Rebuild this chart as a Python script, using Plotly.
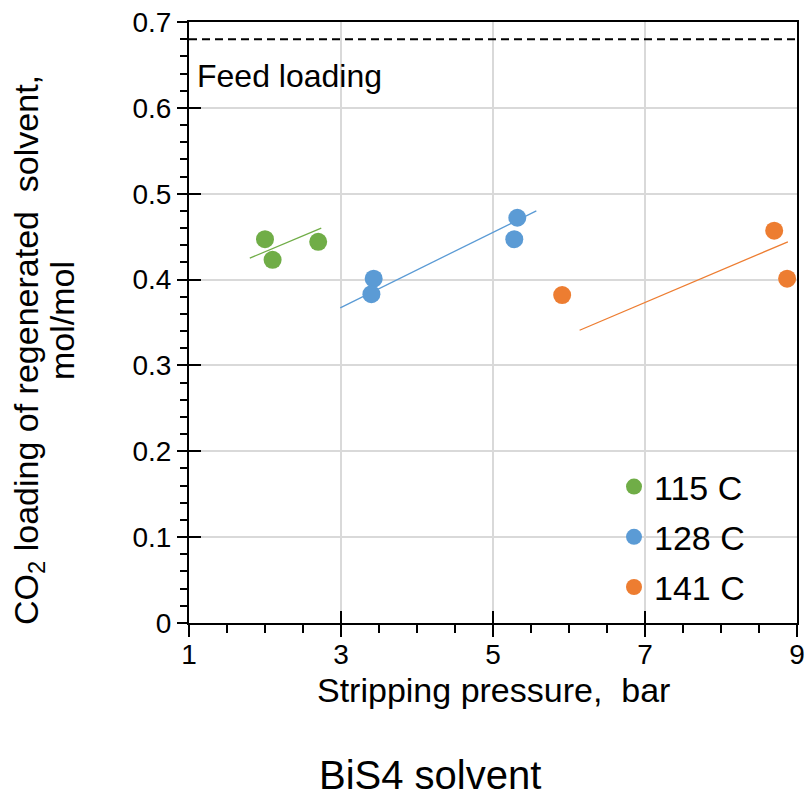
import plotly.graph_objects as go

# ---- data ----
series_names = ["115 C", "128 C", "141 C"]
series_colors = ["#70AD47", "#5B9BD5", "#ED7D31"]

x_115 = [2.00, 2.10, 2.70]
y_115 = [0.447, 0.423, 0.444]
x_128 = [3.43, 3.40, 5.28, 5.32]
y_128 = [0.401, 0.383, 0.447, 0.472]
x_141 = [5.91, 8.70, 8.87]
y_141 = [0.382, 0.457, 0.401]

trend_x_115 = [1.80, 2.74]
trend_y_115 = [0.425, 0.460]
trend_x_128 = [2.99, 5.57]
trend_y_128 = [0.367, 0.480]
trend_x_141 = [6.14, 8.88]
trend_y_141 = [0.341, 0.444]

feed_x = [1, 9]
feed_y = [0.68, 0.68]
feed_label = "Feed loading"

x_ticks = [1, 3, 5, 7, 9]
y_ticks = [0, 0.1, 0.2, 0.3, 0.4, 0.5, 0.6, 0.7]
y_tick_labels = ["0", "0.1", "0.2", "0.3", "0.4", "0.5", "0.6", "0.7"]

x_title = "Stripping pressure,  bar"
y_title_1 = "CO<sub>2</sub> loading of regenerated  solvent,"
y_title_2 = "mol/mol"
caption = "BiS4 solvent"

FONT = "Liberation Sans, Arial, sans-serif"
W, H = 808, 802
ML, MR, MT, MB = 189, 11, 22, 179
PW, PH = W - ML - MR, H - MT - MB


def px_x(p):
    return (p - ML) / PW


def px_y(p):
    return (H - MB - p) / PH


fig = go.Figure()

fig.add_trace(go.Scatter(x=feed_x, y=feed_y, mode="lines",
                         line=dict(color="black", width=2, dash="8px,5px"),
                         showlegend=False, hoverinfo="skip"))

points = [(x_115, y_115), (x_128, y_128), (x_141, y_141)]
trends = [(trend_x_115, trend_y_115), (trend_x_128, trend_y_128), (trend_x_141, trend_y_141)]

for i, col in enumerate(series_colors):
    tx, ty = trends[i]
    fig.add_trace(go.Scatter(x=tx, y=ty, mode="lines", line=dict(color=col, width=1.3),
                             showlegend=False, hoverinfo="skip"))
for i, (name, col) in enumerate(zip(series_names, series_colors)):
    px_, py_ = points[i]
    fig.add_trace(go.Scatter(x=px_, y=py_, mode="markers", name=name,
                             marker=dict(color=col, size=18, line=dict(width=0)),
                             legendgroup=name))

fig.add_trace(go.Scatter(x=[None], y=[None], xaxis="x2", yaxis="y2", showlegend=False,
                         hoverinfo="skip"))

fig.update_layout(
    width=W, height=H,
    margin=dict(l=ML, r=MR, t=MT, b=MB),
    paper_bgcolor="white", plot_bgcolor="white",
    font=dict(family=FONT, size=28, color="black"),
    showlegend=True,
    legend=dict(x=px_x(614), y=px_y(458), xanchor="left", yanchor="top",
                bgcolor="rgba(0,0,0,0)", font=dict(size=34, family=FONT),
                tracegroupgap=3, itemwidth=30),
    xaxis=dict(range=[1, 9], tickvals=x_ticks, ticktext=[str(v) for v in x_ticks],
               showgrid=True, gridcolor="#D9D9D9", gridwidth=2,
               showline=True, linecolor="black", linewidth=2, mirror=True,
               ticks="outside", ticklen=12, tickwidth=2, tickcolor="black",
               minor=dict(dtick=0.5, tick0=1, ticks="outside", ticklen=8, tickwidth=2,
                          tickcolor="black", showgrid=False),
               tickfont=dict(size=28), zeroline=False, automargin=False,
               ticklabelstandoff=-7, ticklabeloverflow="allow"),
    yaxis=dict(range=[0, 0.7], tickvals=y_ticks, ticktext=y_tick_labels,
               showgrid=True, gridcolor="#D9D9D9", gridwidth=2,
               showline=True, linecolor="black", linewidth=2, mirror=True,
               ticks="outside", ticklen=10, tickwidth=2, tickcolor="black",
               minor=dict(dtick=0.02, tick0=0, ticks="outside", ticklen=7, tickwidth=2,
                          tickcolor="black", showgrid=False),
               tickfont=dict(size=28), zeroline=False, automargin=False,
               ticklabeloverflow="allow"),
    xaxis2=dict(overlaying="x", matches="x", range=[1, 9], tickvals=x_ticks,
                showticklabels=False, showgrid=False, showline=False, zeroline=False,
                ticks="inside", ticklen=12, tickwidth=2, tickcolor="black", side="bottom",
                automargin=False),
    yaxis2=dict(overlaying="y", matches="y", range=[0, 0.7], tickvals=y_ticks,
                showticklabels=False, showgrid=False, showline=False, zeroline=False,
                ticks="inside", ticklen=12, tickwidth=2, tickcolor="black", side="left",
                automargin=False),
    annotations=[
        dict(x=1.08, y=0.637, xref="x", yref="y", text=feed_label, showarrow=False,
             xanchor="left", yanchor="middle", font=dict(size=32, family=FONT)),
        dict(x=px_x(493), y=px_y(690), xref="paper", yref="paper", text=x_title,
             showarrow=False, xanchor="center", yanchor="middle",
             font=dict(size=34, family=FONT)),
        dict(x=px_x(28), y=px_y(350), xref="paper", yref="paper", text=y_title_1,
             showarrow=False, xanchor="center", yanchor="middle", textangle=-90,
             font=dict(size=34, family=FONT)),
        dict(x=px_x(62), y=px_y(321), xref="paper", yref="paper", text=y_title_2,
             showarrow=False, xanchor="center", yanchor="middle", textangle=-90,
             font=dict(size=34, family=FONT)),
        dict(x=px_x(430), y=px_y(775), xref="paper", yref="paper", text=caption,
             showarrow=False, xanchor="center", yanchor="middle",
             font=dict(size=40, family=FONT)),
    ],
)

# remove the browser's default 8px body margin so the figure fills the window exactly
fig.write_html("out.html",
               config={"displayModeBar": False},
               post_script="document.body.style.margin='0';document.body.style.overflow='hidden';")
